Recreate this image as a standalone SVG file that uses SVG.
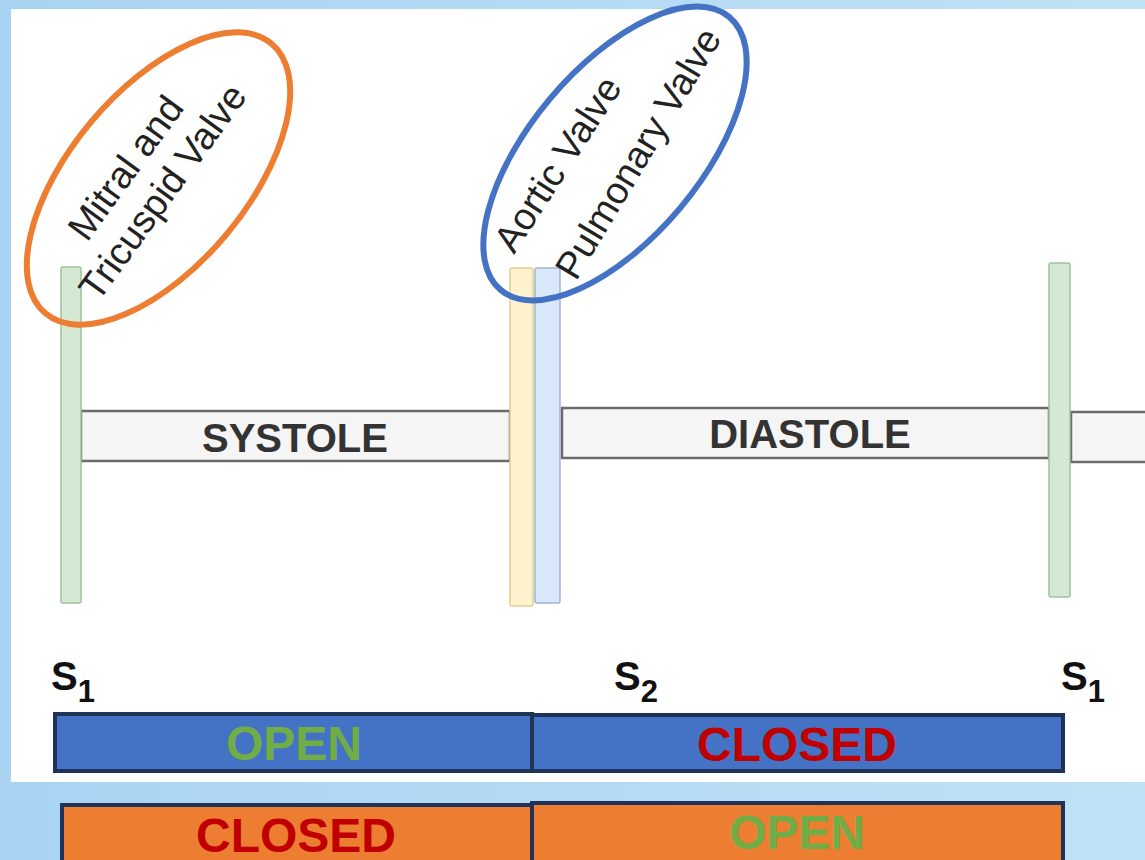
<svg xmlns="http://www.w3.org/2000/svg" width="1145" height="860" viewBox="0 0 1145 860">
  <defs>
    <linearGradient id="bgGrad" x1="0" y1="0" x2="1" y2="0">
      <stop offset="0" stop-color="#a9d3f3"/>
      <stop offset="1" stop-color="#bfe1f5"/>
    </linearGradient>
    <style>
      .valve-label { font-family: "Liberation Sans", Arial, sans-serif; font-size: 38px; fill: #222; }
      .phase { fill: #f5f5f5; stroke: #6b6b6b; stroke-width: 2.5; }
      .phase-text { font-family: "Liberation Sans", Arial, sans-serif; font-weight: bold; font-size: 40px; fill: #333; text-anchor: middle; }
      .mv-bar { fill: #d5e8d4; stroke: #9cc39a; stroke-width: 1.5; }
      .av-bar { fill: #fff2cc; stroke: #e3cf94; stroke-width: 1.5; }
      .pv-bar { fill: #dae8fc; stroke: #9db4d6; stroke-width: 1.5; }
      .sound { font-family: "Liberation Sans", Arial, sans-serif; font-weight: bold; fill: #111; }
      .state-blue { fill: #4472c4; stroke: #1f3258; stroke-width: 4; }
      .state-orange { fill: #ed7d31; stroke: #1f3258; stroke-width: 4; }
      .state-text { font-family: "Liberation Sans", Arial, sans-serif; font-weight: bold; font-size: 48px; text-anchor: middle; }
      .open { fill: #70ad47; }
      .closed { fill: #c00000; }
    </style>
  </defs>

  <!-- backdrop and white drawing panel -->
  <rect id="backdrop" x="0" y="0" width="1145" height="860" fill="url(#bgGrad)"/>
  <rect id="panel" x="11" y="9" width="1134" height="773" fill="#ffffff"/>

  <!-- phase bands between the valve events -->
  <g id="connectors">
    <rect class="phase" x="81" y="411" width="429" height="50"/>
    <rect class="phase" x="562" y="408" width="487" height="50"/>
    <rect class="phase" x="1071" y="412" width="80" height="50"/>
  </g>

  <g id="systole-label">
    <text class="phase-text" x="295" y="452">SYSTOLE</text>
  </g>
  <g id="diastole-label">
    <text class="phase-text" x="810" y="448">DIASTOLE</text>
  </g>

  <!-- valve closure markers -->
  <g id="s1-marker">
    <rect class="mv-bar" x="61" y="267" width="20" height="336" rx="2"/>
  </g>
  <g id="s2-marker">
    <rect class="av-bar" x="510" y="268" width="23" height="338" rx="2"/>
    <rect class="pv-bar" x="535" y="268" width="25" height="335" rx="2"/>
  </g>
  <g id="s1-marker-next">
    <rect class="mv-bar" x="1049" y="263" width="21" height="334" rx="2"/>
  </g>

  <!-- valve names, circled -->
  <g id="av-label">
    <text class="valve-label" transform="translate(87,243) rotate(-54)">Mitral and</text>
    <text class="valve-label" transform="translate(98,303) rotate(-54)">Tricuspid Valve</text>
    <ellipse cx="158.5" cy="178.5" rx="176" ry="88" transform="rotate(-50 158.5 178.5)" fill="none" stroke="#ed7d31" stroke-width="6"/>
  </g>
  <g id="sl-label">
    <text class="valve-label" transform="translate(514,255) rotate(-57)">Aortic Valve</text>
    <text class="valve-label" transform="translate(576,282) rotate(-59)">Pulmonary Valve</text>
    <ellipse cx="615" cy="153.5" rx="178" ry="85" transform="rotate(-50 615 153.5)" fill="none" stroke="#4472c4" stroke-width="6"/>
  </g>

  <!-- heart sounds -->
  <g id="sound-s1">
    <text class="sound" x="51" y="690" font-size="40">S<tspan font-size="31" dy="12">1</tspan></text>
  </g>
  <g id="sound-s2">
    <text class="sound" x="614" y="690" font-size="40">S<tspan font-size="31" dy="12">2</tspan></text>
  </g>
  <g id="sound-s1-next">
    <text class="sound" x="1061" y="690" font-size="40">S<tspan font-size="31" dy="12">1</tspan></text>
  </g>

  <!-- semilunar valve state row -->
  <g id="sl-state">
    <rect class="state-blue" x="55" y="714" width="477" height="57"/>
    <rect class="state-blue" x="532" y="715" width="531" height="56"/>
    <text class="state-text open" x="294" y="760">OPEN</text>
    <text class="state-text closed" x="797" y="761">CLOSED</text>
  </g>

  <!-- atrioventricular valve state row -->
  <g id="av-state">
    <rect class="state-orange" x="62" y="805" width="470" height="70"/>
    <rect class="state-orange" x="532" y="803" width="531" height="72"/>
    <text class="state-text closed" x="296" y="852">CLOSED</text>
    <text class="state-text open" x="797" y="849">OPEN</text>
  </g>
</svg>
